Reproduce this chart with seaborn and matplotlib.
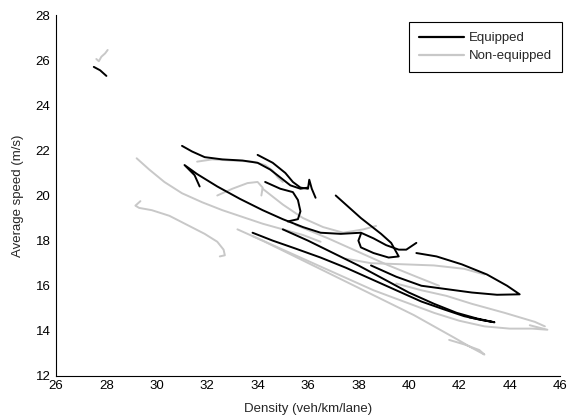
import matplotlib
matplotlib.use("Agg")
import matplotlib.pyplot as plt
import pandas as pd
import seaborn as sns

# ---- equipped vehicles (black tracks), density in veh/km/lane, speed in m/s
eq1_density = [27.5, 27.75, 28.0]
eq1_speed = [25.7, 25.55, 25.3]
eq2_density = [31.0, 31.4, 31.9, 32.6, 33.4, 34.0, 34.5, 34.9, 35.3, 35.7, 36.0]
eq2_speed = [22.2, 21.95, 21.7, 21.6, 21.55, 21.45, 21.15, 20.8, 20.45, 20.3, 20.35]
eq3_density = [31.7, 31.5, 31.1, 31.6, 32.4, 33.3, 34.2, 35.0, 35.8, 36.5, 37.3, 38.1, 38.6, 39.1, 39.6, 39.9, 40.3]
eq3_speed = [20.4, 20.9, 21.35, 20.95, 20.4, 19.85, 19.35, 18.95, 18.6, 18.35, 18.3, 18.35, 18.1, 17.8, 17.6, 17.6, 17.9]
eq4_density = [34.0, 34.6, 35.1, 35.4, 35.7, 36.0, 36.05, 36.15, 36.3]
eq4_speed = [21.8, 21.45, 21.0, 20.6, 20.35, 20.3, 20.7, 20.3, 19.9]
eq5_density = [34.3, 34.9, 35.4, 35.6, 35.7, 35.6, 35.2]
eq5_speed = [20.6, 20.3, 20.15, 19.8, 19.3, 18.95, 18.85]
eq6_density = [37.1, 37.6, 38.1, 38.5, 38.9, 39.3, 39.6, 39.2, 38.6, 38.1, 38.0, 38.1]
eq6_speed = [20.0, 19.5, 19.0, 18.65, 18.3, 17.9, 17.3, 17.25, 17.45, 17.7, 18.0, 18.3]
eq7_density = [33.8, 34.6, 35.5, 36.5, 37.5, 38.5, 39.5, 40.5, 41.4, 42.2, 42.8, 43.3]
eq7_speed = [18.35, 18.0, 17.65, 17.25, 16.8, 16.3, 15.8, 15.3, 14.95, 14.65, 14.5, 14.4]
eq8_density = [35.0, 36.0, 37.0, 38.0, 39.0, 40.0, 41.0, 41.9, 42.7, 43.4, 43.0, 42.4]
eq8_speed = [18.5, 18.0, 17.45, 16.9, 16.3, 15.7, 15.2, 14.8, 14.55, 14.38, 14.46, 14.6]
eq9_density = [38.5, 39.5, 40.5, 41.5, 42.5, 43.5, 44.4, 43.9, 43.1, 42.1, 41.1, 40.3]
eq9_speed = [16.9, 16.4, 16.0, 15.85, 15.7, 15.6, 15.62, 16.0, 16.5, 16.95, 17.3, 17.45]

# ---- non-equipped vehicles (grey tracks)
ne1_density = [27.6, 27.7, 27.8, 27.95, 28.05]
ne1_speed = [26.05, 25.95, 26.15, 26.3, 26.45]
ne2_density = [29.2, 29.7, 30.3, 31.0, 31.8, 32.6, 33.4, 34.2, 35.0, 35.8, 36.5]
ne2_speed = [21.65, 21.15, 20.6, 20.1, 19.7, 19.35, 19.05, 18.75, 18.5, 18.25, 17.95]
ne3_density = [29.35, 29.15, 29.3, 29.8, 30.5, 31.2, 31.9, 32.4, 32.65, 32.7, 32.5]
ne3_speed = [19.75, 19.55, 19.45, 19.35, 19.1, 18.7, 18.3, 17.95, 17.6, 17.35, 17.3]
ne4_density = [31.6, 32.2, 33.0, 33.8, 34.3, 34.6, 34.8, 35.0]
ne4_speed = [21.5, 21.6, 21.55, 21.5, 21.35, 21.1, 20.8, 20.6]
ne5_density = [32.4, 33.0, 33.6, 34.0, 34.2, 34.15]
ne5_speed = [20.0, 20.3, 20.55, 20.6, 20.35, 20.0]
ne6_density = [34.2, 35.0, 35.8, 36.6, 37.4, 38.2, 38.7]
ne6_speed = [20.3, 19.6, 19.0, 18.6, 18.35, 18.5, 18.65]
ne7_density = [33.2, 34.2, 35.2, 36.2, 37.2, 38.2, 39.2, 40.2, 41.0, 41.8, 42.5, 43.0, 42.8, 42.2, 41.6]
ne7_speed = [18.5, 18.0, 17.45, 16.9, 16.35, 15.8, 15.25, 14.7, 14.2, 13.7, 13.25, 12.95, 13.15, 13.4, 13.6]
ne8_density = [33.8, 35.0, 36.2, 37.4, 38.6, 39.8, 41.0, 42.0, 43.0, 44.0, 44.9, 45.5, 44.8]
ne8_speed = [18.2, 17.6, 17.0, 16.4, 15.8, 15.3, 14.8, 14.45, 14.2, 14.1, 14.1, 14.05, 14.25]
ne9_density = [37.5, 38.5, 39.8, 41.0, 42.2, 43.0]
ne9_speed = [17.2, 17.0, 16.95, 16.9, 16.75, 16.5]
ne10_density = [39.5, 40.5, 41.5, 42.5, 43.8, 45.0, 45.4]
ne10_speed = [16.1, 15.8, 15.55, 15.2, 14.8, 14.4, 14.2]
ne11_density = [35.5, 36.8, 38.0, 39.2, 40.3, 41.2]
ne11_speed = [18.7, 18.1, 17.5, 16.9, 16.4, 16.0]

EQUIPPED = [
    (eq1_density, eq1_speed), (eq2_density, eq2_speed), (eq3_density, eq3_speed),
    (eq4_density, eq4_speed), (eq5_density, eq5_speed), (eq6_density, eq6_speed),
    (eq7_density, eq7_speed), (eq8_density, eq8_speed), (eq9_density, eq9_speed),
]
NON_EQUIPPED = [
    (ne1_density, ne1_speed), (ne2_density, ne2_speed), (ne3_density, ne3_speed),
    (ne4_density, ne4_speed), (ne5_density, ne5_speed), (ne6_density, ne6_speed),
    (ne7_density, ne7_speed), (ne8_density, ne8_speed), (ne9_density, ne9_speed),
    (ne10_density, ne10_speed), (ne11_density, ne11_speed),
]


def tracks_frame(tracks, group):
    rows = []
    for run, (xs, ys) in enumerate(tracks):
        for step, (x, y) in enumerate(zip(xs, ys)):
            rows.append({"density": x, "speed": y, "group": group, "run": f"{group}-{run}", "step": step})
    return pd.DataFrame(rows)


def main() -> None:
    sns.set_style("white")
    plt.rcParams["font.family"] = ["Liberation Sans", "DejaVu Sans"]

    df = pd.concat([tracks_frame(NON_EQUIPPED, "Non-equipped"), tracks_frame(EQUIPPED, "Equipped")])

    fig = plt.figure(figsize=(5.79, 4.18), dpi=100)
    ax = fig.add_axes([56 / 579, 1 - 376 / 418, (560 - 56) / 579, (376 - 15) / 418])

    sns.lineplot(
        data=df, x="density", y="speed", hue="group", units="run",
        hue_order=["Non-equipped", "Equipped"],
        palette={"Equipped": "black", "Non-equipped": "#c8c8c8"},
        estimator=None, sort=False, linewidth=1.4, ax=ax,
    )

    ax.set_xlim(26, 46)
    ax.set_ylim(12, 28)
    ax.set_xticks(range(26, 47, 2))
    ax.set_yticks(range(12, 29, 2))
    ax.tick_params(direction="in", length=4, width=0.8, labelsize=9.5, colors="black")
    ax.tick_params(axis="y", pad=4)
    ax.tick_params(axis="x", pad=3)
    for side in ("top", "right"):
        ax.spines[side].set_visible(False)
    for side in ("left", "bottom"):
        ax.spines[side].set_color("black")
        ax.spines[side].set_linewidth(0.8)
    ax.set_xlabel("Density (veh/km/lane)", fontsize=9.5, labelpad=8)
    ax.set_ylabel("Average speed (m/s)", fontsize=9.5, labelpad=8)

    handles, labels = ax.get_legend_handles_labels()
    order = [labels.index("Equipped"), labels.index("Non-equipped")]
    leg = ax.legend(
        [handles[i] for i in order], [labels[i] for i in order],
        loc="upper right", bbox_to_anchor=(562 / 579, 1 - 22 / 418), bbox_transform=fig.transFigure,
        frameon=True, fancybox=False, framealpha=1, edgecolor="black",
        fontsize=9.5, handlelength=3.4, handletextpad=0.4, borderaxespad=0,
        borderpad=0.75, labelspacing=0.45,
    )
    leg.get_frame().set_linewidth(0.8)
    for line in leg.get_lines():
        line.set_linewidth(1.6)

    fig.savefig("out.png", dpi=100)
    plt.close(fig)


if __name__ == "__main__":
    main()
